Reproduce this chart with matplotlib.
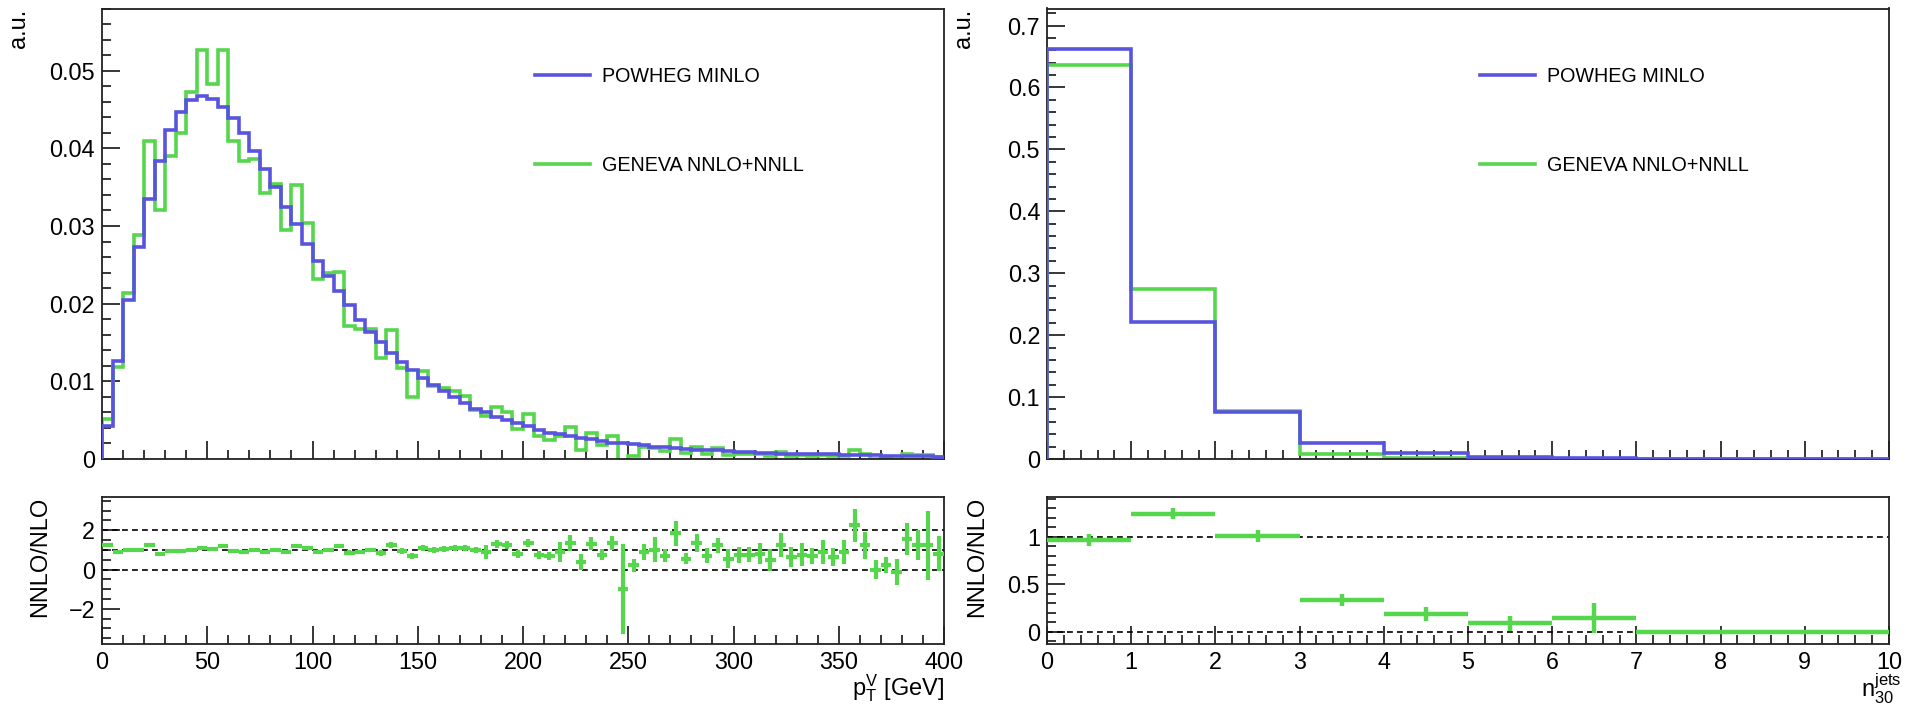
import numpy as np
import matplotlib.pyplot as plt
from matplotlib.lines import Line2D
from matplotlib.ticker import MultipleLocator, FuncFormatter

plt.rcParams['font.family'] = ['Liberation Sans', 'DejaVu Sans']
plt.rcParams['mathtext.fontset'] = 'custom'
plt.rcParams['mathtext.rm'] = 'Liberation Sans'
plt.rcParams['mathtext.it'] = 'Liberation Sans'
plt.rcParams['mathtext.default'] = 'regular'

blue = "#5854de"
green = "#55d64c"

# pT(V) distribution, 5 GeV bins from 0 to 400
pt_edges = np.arange(0, 405, 5)
pt_powheg = [0.0043, 0.0126, 0.0205, 0.0273, 0.0335, 0.0384, 0.0423, 0.0447, 0.0462, 0.0467,
             0.0464, 0.0453, 0.0439, 0.0420, 0.0396, 0.0374, 0.0350, 0.0325, 0.0302, 0.0277,
             0.0255, 0.0235, 0.0216, 0.0198, 0.0179, 0.0164, 0.0150, 0.0137, 0.0125, 0.0115,
             0.0104, 0.0095, 0.0088, 0.0080, 0.0072, 0.0064, 0.0060, 0.0054, 0.0050, 0.0046,
             0.0042, 0.0037, 0.0034, 0.0032, 0.0030, 0.0027, 0.0026, 0.0023, 0.0021, 0.0020,
             0.0019, 0.0018, 0.0016, 0.0015, 0.0014, 0.0013, 0.0012, 0.0011, 0.0011, 0.0010,
             0.0009, 0.0009, 0.0008, 0.0008, 0.0007, 0.0007, 0.0007, 0.0006, 0.0006, 0.0006,
             0.0005, 0.0005, 0.0005, 0.0005, 0.0004, 0.0004, 0.0004, 0.0004, 0.0004, 0.0003]
pt_geneva = [0.0051, 0.0119, 0.0214, 0.0289, 0.0409, 0.0320, 0.0390, 0.0420, 0.0473, 0.0526,
             0.0483, 0.0527, 0.0410, 0.0384, 0.0386, 0.0342, 0.0354, 0.0295, 0.0353, 0.0304,
             0.0232, 0.0240, 0.0241, 0.0171, 0.0168, 0.0167, 0.0130, 0.0166, 0.0117, 0.0080,
             0.0113, 0.0094, 0.0092, 0.0087, 0.0081, 0.0063, 0.0055, 0.0067, 0.0060, 0.0038,
             0.0058, 0.0029, 0.0024, 0.0029, 0.0041, 0.0011, 0.0034, 0.0018, 0.0029, -0.0020,
             0.0004, 0.0015, 0.0014, 0.0010, 0.0026, 0.0008, 0.0016, 0.0007, 0.0014, 0.0005,
             0.0007, 0.0007, 0.0006, 0.0004, 0.0009, 0.0004, 0.0005, 0.0004, 0.0005, 0.0004,
             0.0004, 0.0011, 0.0006, 0.0000, 0.0001, -0.0001, 0.0006, 0.0005, 0.0005, 0.0003]
pt_ratio = [1.23, 0.89, 1.01, 0.98, 1.23, 0.81, 0.93, 0.93, 1.01, 1.11,
            1.03, 1.18, 0.93, 0.89, 0.98, 0.89, 1.01, 0.89, 1.18, 1.11,
            0.89, 0.98, 1.18, 0.86, 0.89, 1.01, 0.84, 1.23, 0.93, 0.69,
            1.11, 0.98, 1.03, 1.11, 1.11, 0.98, 0.89, 1.28, 1.23, 0.81,
            1.35, 0.76, 0.67, 0.89, 1.35, 0.39, 1.32, 0.76, 1.35, -0.98,
            0.22, 0.89, 1.01, 0.71, 1.85, 0.56, 1.35, 0.69, 1.23, 0.56,
            0.73, 0.76, 0.81, 0.47, 1.26, 0.64, 0.76, 0.69, 0.89, 0.64,
            0.89, 2.24, 1.23, 0.00, 0.22, -0.12, 1.57, 1.23, 1.23, 0.81]
pt_ratio_err = [0.09, 0.09, 0.09, 0.09, 0.09, 0.09, 0.09, 0.09, 0.09, 0.09,
                0.09, 0.09, 0.09, 0.09, 0.09, 0.09, 0.11, 0.11, 0.11, 0.11,
                0.11, 0.11, 0.11, 0.11, 0.11, 0.11, 0.16, 0.16, 0.16, 0.16,
                0.16, 0.16, 0.16, 0.16, 0.16, 0.16, 0.34, 0.20, 0.20, 0.20,
                0.20, 0.20, 0.20, 0.50, 0.42, 0.42, 0.34, 0.30, 0.38, 2.28,
                0.34, 0.40, 0.63, 0.34, 0.63, 0.30, 0.46, 0.38, 0.38, 0.46,
                0.40, 0.40, 0.53, 0.57, 0.60, 0.53, 0.60, 0.40, 0.60, 0.46,
                0.60, 0.84, 0.67, 0.50, 0.42, 0.67, 0.82, 0.76, 1.75, 0.88]

# jet multiplicity
nj_edges = np.arange(0, 11)
nj_powheg = [0.662, 0.221, 0.0765, 0.0264, 0.0090, 0.0038, 0.0015, 0.0005, 0.0002, 0.0001]
nj_geneva = [0.637, 0.274, 0.0770, 0.0088, 0.0017, 0.0003, 0.0002, 0.0, 0.0, 0.0]
nj_ratio = [0.965, 1.245, 1.01, 0.333, 0.186, 0.088, 0.147, 0.0, 0.0, 0.0]
nj_ratio_err = [0.065, 0.06, 0.06, 0.06, 0.07, 0.08, 0.16, 0.0, 0.0, 0.0]

labels = ["POWHEG MINLO", "GENEVA NNLO+NNLL"]

fig = plt.figure(figsize=(19.07, 7.06), dpi=100)
W, H = 1907.0, 706.0


def box(x0, x1, y0, y1):
    return [x0 / W, 1 - y1 / H, (x1 - x0) / W, (y1 - y0) / H]


ax1 = fig.add_axes(box(102, 944, 8.5, 459))
ax2 = fig.add_axes(box(102, 944, 497, 644))
ax3 = fig.add_axes(box(1047, 1889, 8.5, 459))
ax4 = fig.add_axes(box(1047, 1889, 497, 644))

fmt = FuncFormatter(lambda v, p: "%g" % round(v, 6))


def style(ax, xmaj, xmin, ymaj, ymin):
    ax.xaxis.set_major_locator(MultipleLocator(xmaj))
    ax.xaxis.set_minor_locator(MultipleLocator(xmin))
    ax.yaxis.set_major_locator(MultipleLocator(ymaj))
    ax.yaxis.set_minor_locator(MultipleLocator(ymin))
    ax.tick_params(which='both', direction='in', top=False, right=False,
                   labelsize=16.8, pad=5, width=1.1, color='black')
    ax.tick_params(which='major', length=13)
    ax.tick_params(which='minor', length=6.5)
    for s in ax.spines.values():
        s.set_linewidth(1.3)
        s.set_color('#222222')


# left top
ax1.stairs(pt_powheg, pt_edges, baseline=0, color=blue, lw=2.6, zorder=3)
ax1.stairs(pt_geneva, pt_edges, baseline=0, color=green, lw=2.6, zorder=2)
ax1.set_xlim(0, 400)
ax1.set_ylim(0, 0.058)
style(ax1, 50, 10, 0.01, 0.002)
ax1.yaxis.set_major_formatter(fmt)
ax1.tick_params(labelbottom=False)
ax1.set_ylabel("a.u.", fontsize=17, loc='top')
ax1.yaxis.set_label_coords(-0.085, 1.0)

# left ratio
for yv in [0, 1, 2]:
    ax2.axhline(yv, color='black', lw=1.2, ls=(0, (3.5, 2.5)), zorder=1)
pt_centers = 0.5 * (pt_edges[:-1] + pt_edges[1:])
ax2.errorbar(pt_centers, pt_ratio, xerr=2.5, yerr=pt_ratio_err, fmt='none',
             ecolor=green, elinewidth=3.0, capsize=0, zorder=3)
ax2.set_xlim(0, 400)
ax2.set_ylim(-3.79, 3.69)
style(ax2, 50, 10, 2, 0.5)
ax2.set_ylabel("NNLO/NLO", fontsize=17, loc='top')
ax2.yaxis.set_label_coords(-0.06, 1.0)
ax2.set_xlabel(r"$p_{T}^{V}$ [GeV]", fontsize=17, loc='right')
ax2.xaxis.set_label_coords(1.0, -0.19)

# right top
ax3.stairs(nj_powheg, nj_edges, baseline=0, color=blue, lw=2.6, zorder=3)
ax3.stairs(nj_geneva, nj_edges, baseline=0, color=green, lw=2.6, zorder=2)
ax3.set_xlim(0, 10)
ax3.set_ylim(0, 0.7275)
style(ax3, 1, 0.2, 0.1, 0.02)
ax3.yaxis.set_major_formatter(fmt)
ax3.tick_params(labelbottom=False)
ax3.set_ylabel("a.u.", fontsize=17, loc='top')
ax3.yaxis.set_label_coords(-0.085, 1.0)

# right ratio
for yv in [0, 1]:
    ax4.axhline(yv, color='black', lw=1.2, ls=(0, (3.5, 2.5)), zorder=1)
nj_centers = 0.5 * (nj_edges[:-1] + nj_edges[1:])
ax4.errorbar(nj_centers, nj_ratio, xerr=0.5, yerr=nj_ratio_err, fmt='none',
             ecolor=green, elinewidth=3.2, capsize=0, zorder=3)
ax4.set_xlim(0, 10)
ax4.set_ylim(-0.13, 1.42)
style(ax4, 1, 0.2, 0.5, 0.1)
ax4.yaxis.set_major_formatter(fmt)
ax4.set_ylabel("NNLO/NLO", fontsize=17, loc='top')
ax4.yaxis.set_label_coords(-0.07, 1.0)
ax4.set_xlabel(r"$n_{30}^{jets}$", fontsize=17, loc='right')
ax4.xaxis.set_label_coords(1.015, -0.19)

handles = [Line2D([], [], color=blue, lw=2.6), Line2D([], [], color=green, lw=2.6)]
for ax in (ax1, ax3):
    ax.legend(handles, labels, loc='upper left', bbox_to_anchor=(0.514, 0.87),
              frameon=False, fontsize=14.2, handlelength=2.8, handletextpad=0.6,
              labelspacing=3.55, borderpad=0, borderaxespad=0)

fig.savefig("out.png", dpi=100)
